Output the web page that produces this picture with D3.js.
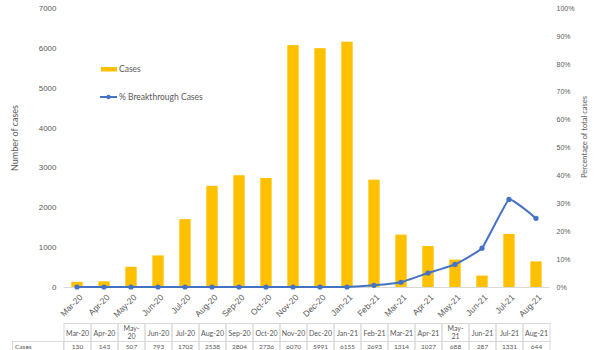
<!DOCTYPE html>
<html>
<head>
<meta charset="utf-8">
<script src="https://cdn.jsdelivr.net/npm/d3@7"></script>
<style>
  html, body { margin: 0; padding: 0; background: #fff; }
  svg { display: block; font-family: Lato, "Open Sans", sans-serif; }
</style>
</head>
<body>
<svg id="chart" width="600" height="350"></svg>
<script>
// Monthly categories
const months = ["Mar-20","Apr-20","May-20","Jun-20","Jul-20","Aug-20","Sep-20","Oct-20","Nov-20",
                "Dec-20","Jan-21","Feb-21","Mar-21","Apr-21","May-21","Jun-21","Jul-21","Aug-21"];
// Total cases per month
const cases = [130,143,507,793,1702,2538,2804,2736,6070,5991,6155,2693,1314,1027,688,287,1331,644];
// Breakthrough cases as percentage of total cases
const breakthroughPct = [0,0,0,0,0,0,0,0,0,0,0,0.6,1.7,5.0,8.1,13.9,31.4,24.6];
// Axis ticks
const leftTicks = [0,1000,2000,3000,4000,5000,6000,7000];
const rightTicks = [0,10,20,30,40,50,60,70,80,90,100];

const svg = d3.select("#chart");
const plotBottom = 287, plotTop = 8;
const plotLeft = 63.5, plotRight = 549.5;

const x = d3.scaleBand().domain(months).range([plotLeft, plotRight]).paddingInner(0.58).paddingOuter(0.29);
const xc = d => x(d) + x.bandwidth() / 2;
const yL = d3.scaleLinear().domain([0, 7000]).range([plotBottom, plotTop]);
const yR = d3.scaleLinear().domain([0, 100]).range([plotBottom, plotTop]);

const textCol = "#595959";

// Left axis
const leftAxis = svg.append("g").attr("transform", `translate(${plotLeft},0)`)
  .call(d3.axisLeft(yL).tickValues(leftTicks).tickSize(0).tickPadding(7).tickFormat(d3.format("d")));
leftAxis.select(".domain").remove();
leftAxis.selectAll("text").attr("fill", textCol).style("font-size", "8px");

// Right axis
const rightAxis = svg.append("g").attr("transform", `translate(${plotRight},0)`)
  .call(d3.axisRight(yR).tickValues(rightTicks).tickSize(0).tickPadding(7).tickFormat(d => d + "%"));
rightAxis.select(".domain").remove();
rightAxis.selectAll("text").attr("fill", textCol).style("font-size", "7px");

// Axis titles
svg.append("text").attr("transform", "translate(18,138) rotate(-90)")
  .attr("text-anchor", "middle").attr("fill", textCol).style("font-size", "9px").text("Number of cases");
svg.append("text").attr("transform", "translate(587,137) rotate(-90)")
  .attr("text-anchor", "middle").attr("fill", textCol).style("font-size", "7.5px").text("Percentage of total cases");

// Bars
svg.append("g").selectAll("rect").data(months).join("rect")
  .attr("x", (d) => x(d))
  .attr("y", (d, i) => yL(cases[i]))
  .attr("width", x.bandwidth())
  .attr("height", (d, i) => plotBottom - yL(cases[i]))
  .attr("fill", "#FFC000");

// Baseline
svg.append("line").attr("x1", plotLeft).attr("x2", plotRight).attr("y1", plotBottom + 0.5).attr("y2", plotBottom + 0.5)
  .attr("stroke", "#d9d9d9").attr("stroke-width", 1);

// Breakthrough line
const line = d3.line().x((d, i) => xc(months[i])).y(d => yR(d)).curve(d3.curveCardinal.tension(0.7));
svg.append("path").datum(breakthroughPct).attr("d", line)
  .attr("fill", "none").attr("stroke", "#4472C4").attr("stroke-width", 2);
svg.append("g").selectAll("circle").data(breakthroughPct).join("circle")
  .attr("cx", (d, i) => xc(months[i])).attr("cy", d => yR(d)).attr("r", 2.6).attr("fill", "#4472C4");

// Rotated category labels
const xAxis = svg.append("g").attr("transform", `translate(0,${plotBottom})`)
  .call(d3.axisBottom(x).tickSize(0).tickPadding(0));
xAxis.select(".domain").remove();
xAxis.selectAll("text")
  .attr("fill", textCol).style("font-size", "8.5px")
  .attr("text-anchor", "end")
  .attr("dy", "0")
  .attr("transform", "translate(6,11) rotate(-45)");

// Legend
const lg = svg.append("g");
lg.append("rect").attr("x", 101).attr("y", 67).attr("width", 16).attr("height", 4.5).attr("fill", "#FFC000");
lg.append("text").attr("x", 119).attr("y", 72).attr("fill", textCol).style("font-size", "8.5px").text("Cases");
lg.append("line").attr("x1", 100).attr("x2", 117).attr("y1", 97).attr("y2", 97).attr("stroke", "#4472C4").attr("stroke-width", 2);
lg.append("circle").attr("cx", 108.5).attr("cy", 97).attr("r", 2.2).attr("fill", "#4472C4");
lg.append("text").attr("x", 119).attr("y", 100).attr("fill", textCol).style("font-size", "8.5px").text("% Breakthrough Cases");

// Data table under the chart
const tbl = svg.append("g");
const headTop = 323, headBot = 341, rowBot = 359;
const gridCol = "#d9d9d9";
months.forEach((m, i) => {
  const x0 = x.step() * i + plotLeft;
  const cx = x0 + x.step() / 2 + 0.5;
  tbl.append("rect").attr("x", x0 + 0.5).attr("y", headTop + 0.5).attr("width", x.step()).attr("height", headBot - headTop)
    .attr("fill", "none").attr("stroke", gridCol);
  tbl.append("rect").attr("x", x0 + 0.5).attr("y", headBot + 0.5).attr("width", x.step()).attr("height", rowBot - headBot)
    .attr("fill", "none").attr("stroke", gridCol);
  const t = tbl.append("text").attr("x", cx).attr("text-anchor", "middle")
    .attr("fill", textCol).style("font-size", "7px");
  if (m.startsWith("May")) {
    const parts = m.split("-");
    t.append("tspan").attr("x", cx).attr("y", headTop + 8).text(parts[0] + "-");
    t.append("tspan").attr("x", cx).attr("y", headTop + 16).text(parts[1]);
  } else {
    t.attr("y", headTop + 12.5).text(m);
  }
  tbl.append("text").attr("x", cx).attr("y", 349).attr("text-anchor", "middle")
    .attr("fill", textCol).style("font-size", "6.5px").text(cases[i]);
});
tbl.append("rect").attr("x", 12.5).attr("y", headBot + 0.5).attr("width", 51).attr("height", rowBot - headBot)
  .attr("fill", "none").attr("stroke", gridCol);
tbl.append("text").attr("x", 15).attr("y", 349).attr("fill", textCol).style("font-size", "6.5px").text("Cases");
</script>
</body>
</html>
